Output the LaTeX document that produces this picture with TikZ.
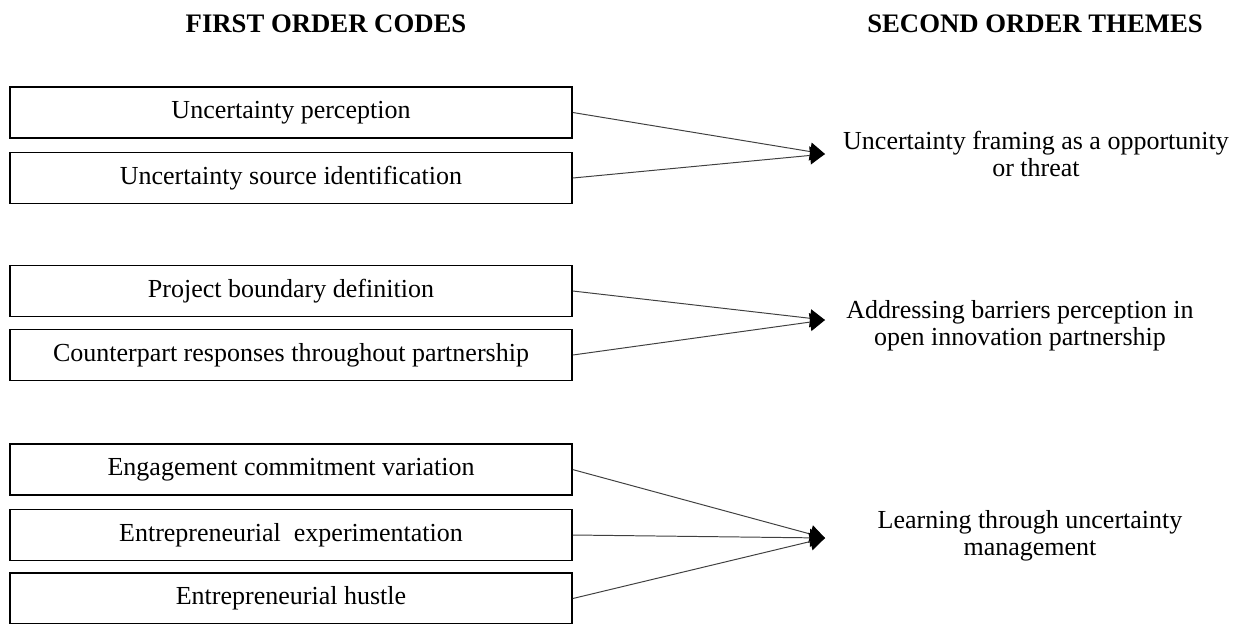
\documentclass[tikz,border=0pt]{standalone}
\usepackage{fontspec}
\setmainfont{Liberation Serif}
\usetikzlibrary{arrows.meta}
\newcommand\cdx{7.275}
\newcommand\tpx{20.625}

\begin{document}
\begin{tikzpicture}[code/.style={rectangle, draw, line width=1.2pt, minimum width=14.05cm, minimum height=1.275cm, font=\fontsize{18.5}{21}\selectfont},
    theme/.style={align=center, font=\fontsize{18.5}{19.5}\selectfont},
    link/.style={draw=black!75, line width=0.7pt, -{Triangle[length=0.375cm, width=0.45cm, color=black]}},
    head/.style={font=\fontsize{19}{21}\selectfont\bfseries}]

    \useasboundingbox (0, 0) rectangle (30.975, -15.575);

    % Headings
    \node at (8.15, -0.6) [head] (h1) {FIRST ORDER CODES};
    \node at (25.875, -0.6) [head] (h2) {SECOND ORDER THEMES};

    % Uncertainty framing
    \node at (\cdx, -2.8125) [code] (c1) {Uncertainty perception};
    \node at (\cdx, -4.45) [code] (c2) {Uncertainty source identification};
    \coordinate (t1) at (\tpx, -3.85);
    \node at (25.9, -3.85) [theme] (th1) {Uncertainty framing as a opportunity\\or threat};

    \draw[link] (c1.east) -- (t1);
    \draw[link] (c2.east) -- (t1);

    % Barriers
    \node at (\cdx, -7.275) [code] (c3) {Project boundary definition};
    \node at (\cdx, -8.875) [code] (c4) {Counterpart responses throughout partnership};
    \coordinate (t2) at (\tpx, -8.0);
    \node at (25.5, -8.15) [theme] (th2) {Addressing barriers perception in\\open innovation partnership};

    \draw[link] (c3.east) -- (t2);
    \draw[link] (c4.east) -- (t2);

    % Learning
    \node at (\cdx, -11.74) [code] (c5) {Engagement commitment variation};
    \node at (\cdx, -13.375) [code] (c6) {Entrepreneurial\ \ experimentation};
    \node at (\cdx, -14.9625) [code] (c7) {Entrepreneurial hustle};
    \coordinate (t3) at (\tpx, -13.45);
    \node at (25.75, -13.4) [theme] (th3) {Learning through uncertainty\\management};

    \draw[link] (c5.east) -- (t3);
    \draw[link] (c6.east) -- (t3);
    \draw[link] (c7.east) -- (t3);

\end{tikzpicture}
\end{document}
